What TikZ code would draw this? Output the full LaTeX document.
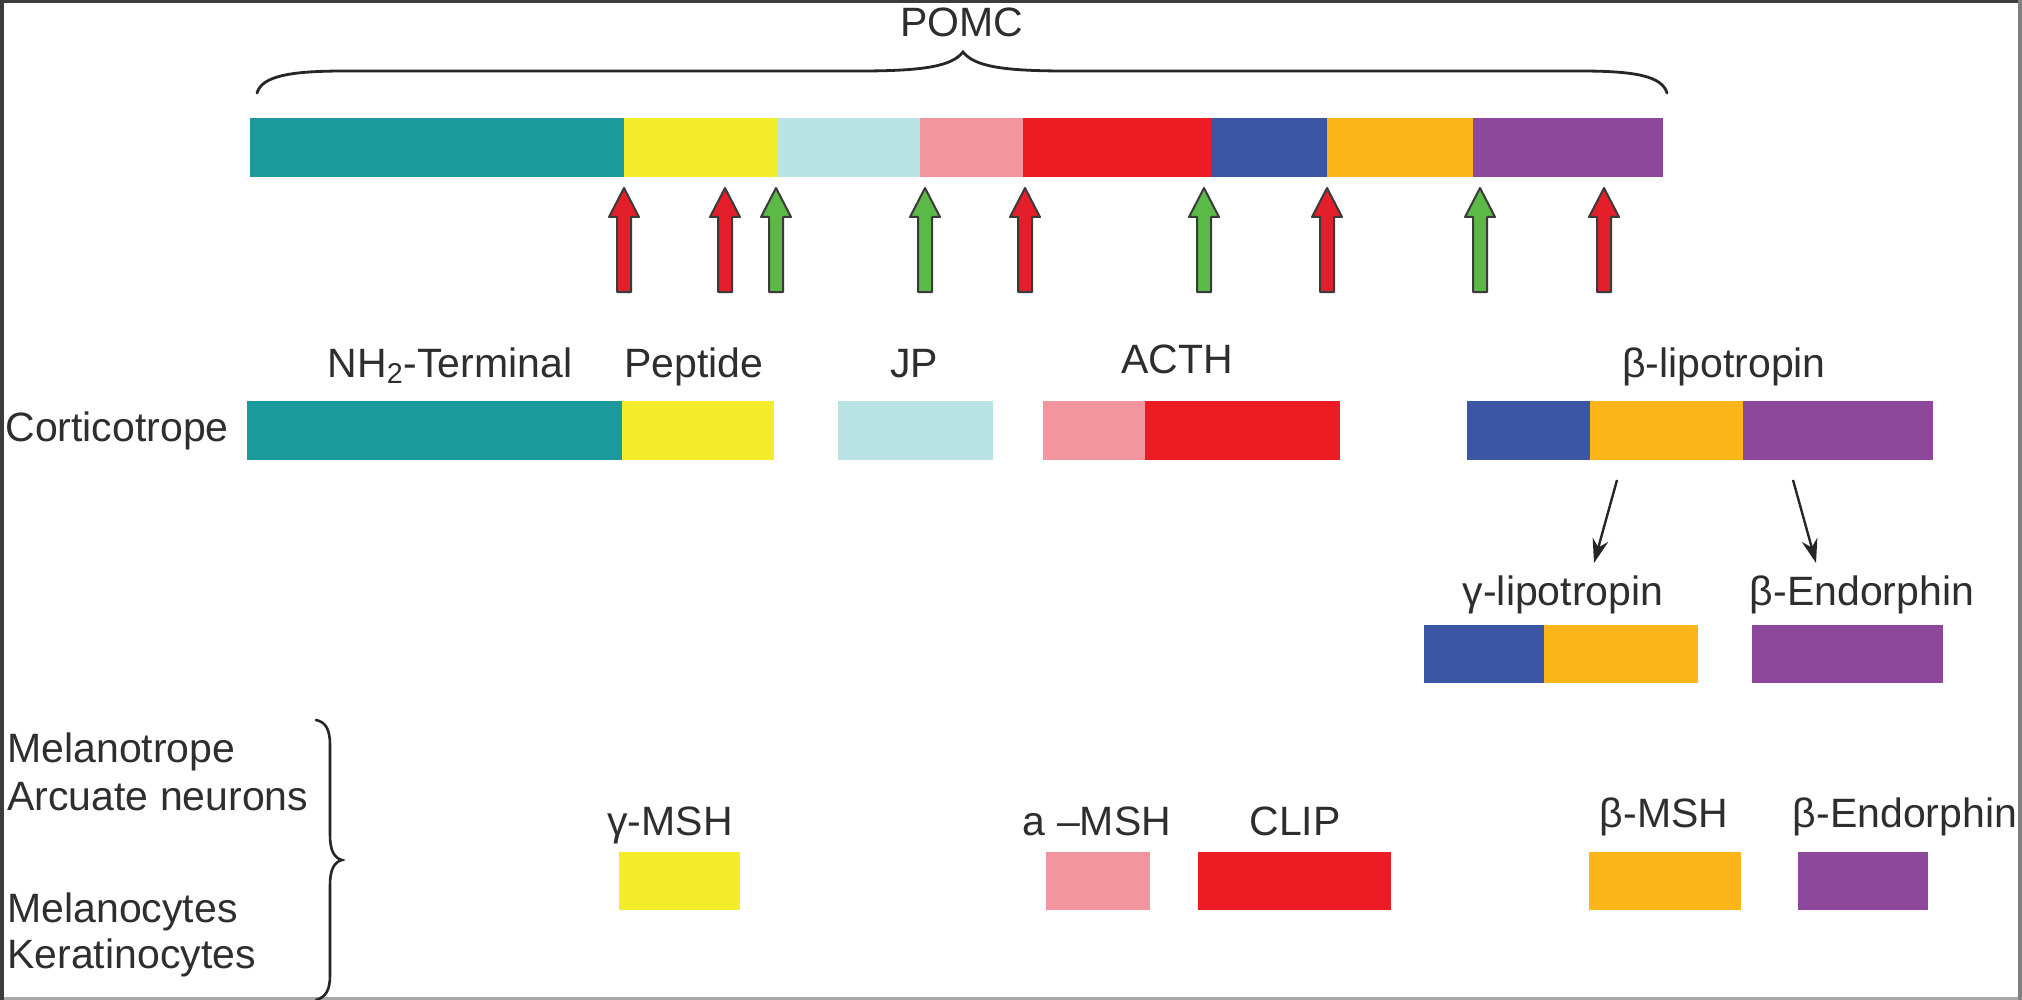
\documentclass[tikz,border=0pt]{standalone}
\usepackage{fontspec}
\setmainfont{Liberation Sans}
\usetikzlibrary{arrows.meta}
\definecolor{cteal}{HTML}{1C9A9B}
\definecolor{cyellow}{HTML}{F3ED2B}
\definecolor{ccyan}{HTML}{B9E3E5}
\definecolor{cpink}{HTML}{F3959F}
\definecolor{cred}{HTML}{EC1C24}
\definecolor{cblue}{HTML}{3C55A5}
\definecolor{corange}{HTML}{FCB61A}
\definecolor{cpurple}{HTML}{8D489B}
\definecolor{ared}{HTML}{E41E2B}
\definecolor{agreen}{HTML}{5BB947}
\definecolor{aline}{HTML}{3A3A3A}
\definecolor{txt}{HTML}{2E2E2E}
\definecolor{fdark}{HTML}{3C3C3C}
\definecolor{fgray}{HTML}{808080}
\definecolor{flight}{HTML}{A8A8A8}
\newcommand\pseg[6]{\node[segbox, fill=#6, minimum width={(#3-#2)*0.5pt}, minimum height={(#5-#4)*0.5pt}] (#1) at (#2,#4) {};}
\begin{document}
\begin{tikzpicture}[x=0.5pt,y=-0.5pt,
  segbox/.style={rectangle, inner sep=0pt, outer sep=0pt, draw=none, anchor=north west},
  lab/.style={inner sep=0pt, anchor=base, text=txt, font=\fontsize{20.5pt}{24pt}\selectfont},
  side/.style={lab, anchor=base west},
  conn/.style={draw=black!85, line width=1.2pt, -{Stealth[length=12pt,width=8pt]}},
  brace/.style={draw=black!85, line width=1.4pt, line cap=round},
  cut/.style={draw=aline, line width=1pt, line join=round}]

\useasboundingbox (0,0) rectangle (2022,1000);
\fill[white] (0,0) rectangle (2022,1000);

% frame
\draw[line width=1.5pt, fdark] (0,1.5) -- (2022,1.5);
\draw[line width=1.5pt, flight] (0,998.5) -- (2022,998.5);
\draw[line width=2pt, fgray] (2020,0) -- (2020,1000);
\draw[line width=2pt, fdark] (2,0) -- (2,1000);

% POMC brace and label
\node[lab] (pomc) at (962,37) {POMC};
\draw[brace] (257,93) .. controls (262,76) and (290,71) .. (345,71) -- (860,71)
  .. controls (925,71) and (952,66) .. (963,52)
  .. controls (974,66) and (1001,71) .. (1066,71) -- (1580,71)
  .. controls (1635,71) and (1662,76) .. (1667,93);

% POMC bar
\pseg{t1}{250}{624.5}{118}{177}{cteal}
\pseg{t2}{624}{777.5}{118}{177}{cyellow}
\pseg{t3}{777}{920.5}{118}{177}{ccyan}
\pseg{t4}{920}{1023.5}{118}{177}{cpink}
\pseg{t5}{1023}{1211.5}{118}{177}{cred}
\pseg{t6}{1211}{1327.5}{118}{177}{cblue}
\pseg{t7}{1327}{1473.5}{118}{177}{corange}
\pseg{t8}{1473}{1663}{118}{177}{cpurple}

% cleavage arrows
\foreach \x/\c in {624/ared, 725/ared, 776/agreen, 925/agreen, 1025/ared, 1204/agreen, 1327/ared, 1480/agreen, 1604/ared}{
  \filldraw[cut, fill=\c] (\x-7,292) -- (\x-7,217) -- (\x-15,217) -- (\x,188)
    -- (\x+15,217) -- (\x+7,217) -- (\x+7,292) -- cycle;
}

% Corticotrope row
\node[side] (cort) at (5,441) {Corticotrope};
\node[lab] (lnh) at (450,377) {NH\textsubscript{2}-Terminal};
\node[lab] (lpep) at (694,377) {Peptide};
\node[lab] (ljp) at (914,377) {JP};
\node[lab] (lacth) at (1177,373) {ACTH};
\node[lab] (lblip) at (1724,377) {β-lipotropin};

\pseg{c1}{247}{622.5}{401}{460}{cteal}
\pseg{c2}{622}{774}{401}{460}{cyellow}
\pseg{c3}{838}{993}{401}{460}{ccyan}
\pseg{c4}{1043}{1145.5}{401}{460}{cpink}
\pseg{c5}{1145}{1340}{401}{460}{cred}
\pseg{c6}{1467}{1590.5}{401}{460}{cblue}
\pseg{c7}{1590}{1743.5}{401}{460}{corange}
\pseg{c8}{1743}{1933}{401}{460}{cpurple}

% beta-lipotropin products
\coordinate (a1s) at (1617,480);
\coordinate (a1e) at (1594,563);
\coordinate (a2s) at (1793,480);
\coordinate (a2e) at (1816,563);
\draw[conn] (a1s) -- (a1e);
\draw[conn] (a2s) -- (a2e);

\node[lab] (lglip) at (1563,605) {γ-lipotropin};
\node[lab] (lbend) at (1862,605) {β-Endorphin};
\pseg{g1}{1424}{1544.5}{625}{683}{cblue}
\pseg{g2}{1544}{1698}{625}{683}{corange}
\pseg{g3}{1752}{1943}{625}{683}{cpurple}

% lower cell types
\node[side] (mel) at (7,762) {Melanotrope};
\node[side] (arc) at (7,810) {Arcuate neurons};
\node[side] (mcy) at (7,922) {Melanocytes};
\node[side] (ker) at (7,968) {Keratinocytes};
\draw[brace, line width=1.3pt] (316,720) .. controls (326,722) and (330,730) .. (330,745) -- (330,835)
  .. controls (330,850) and (334,858) .. (342,860)
  .. controls (334,862) and (330,870) .. (330,885) -- (330,975)
  .. controls (330,990) and (326,997) .. (316,1000);

% lower products
\node[lab] (lgmsh) at (670,835) {γ-MSH};
\node[lab] (lamsh) at (1097,835) {a –MSH};
\node[lab] (lclip) at (1295,835) {CLIP};
\node[lab] (lbmsh) at (1664,827) {β-MSH};
\node[lab] (lbend2) at (1905,827) {β-Endorphin};

\pseg{m1}{619}{740}{852}{910}{cyellow}
\pseg{m2}{1046}{1150}{852}{910}{cpink}
\pseg{m3}{1198}{1391}{852}{910}{cred}
\pseg{m4}{1589}{1741}{852}{910}{corange}
\pseg{m5}{1798}{1928}{852}{910}{cpurple}
\end{tikzpicture}
\end{document}
